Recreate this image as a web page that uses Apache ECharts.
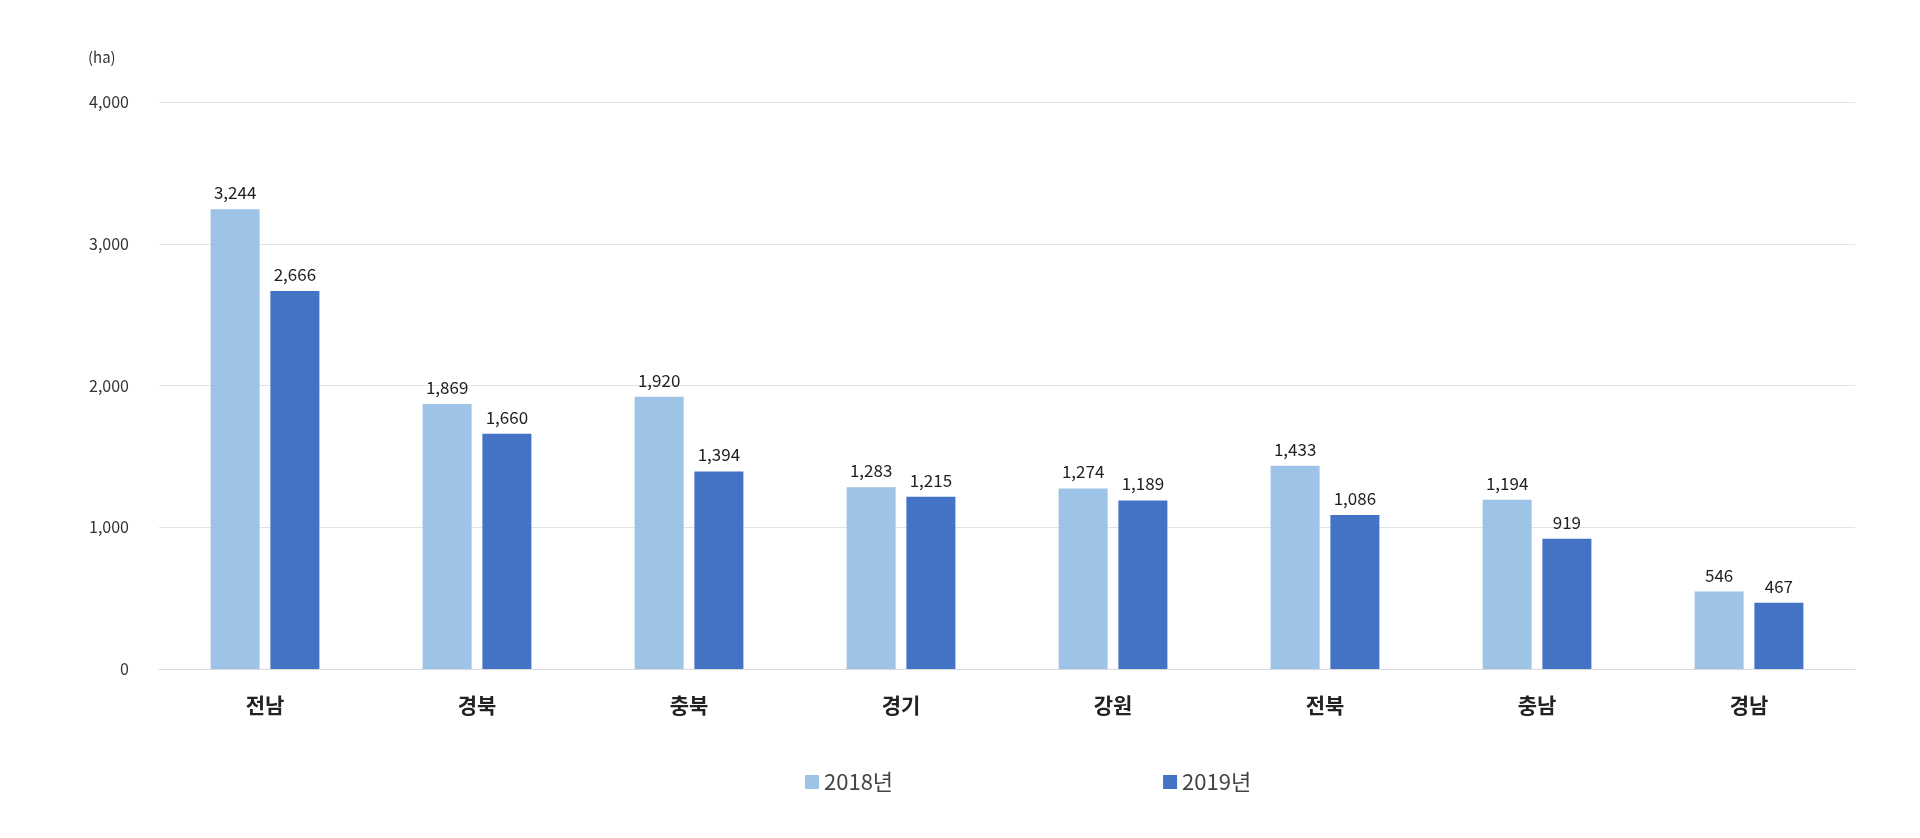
<!DOCTYPE html>
<html><head><meta charset="utf-8">
<script src="https://cdn.jsdelivr.net/npm/echarts@6/dist/echarts.min.js"></script>
<style>html,body{margin:0;padding:0;background:#fff}#c{width:1920px;height:838px}</style>
</head><body><div id="c"></div>
<script>
const categories = ['전남','경북','충북','경기','강원','전북','충남','경남'];
const s2018 = [3244,1869,1920,1283,1274,1433,1194,546];
const s2019 = [2666,1660,1394,1215,1189,1086,919,467];
const font = "'Noto Sans CJK KR', 'Noto Sans', sans-serif";
const chart = echarts.init(document.getElementById('c'));
chart.setOption({
  animation:false,
  grid:{left:159,right:65,top:102,bottom:169},
  graphic:[{type:'text',left:88,top:50,style:{text:'(ha)',font:"15px "+font,fill:'#333'}}],
  legend:{bottom:40,left:800,itemGap:270,itemWidth:14,itemHeight:14,icon:'rect',
    textStyle:{fontSize:22,color:'#444',fontFamily:font},data:['2018년','2019년']},
  xAxis:{type:'category',data:categories,axisTick:{show:false},
    axisLine:{lineStyle:{color:'#d9d9d9'}},
    axisLabel:{fontSize:21,fontWeight:'bold',color:'#222',margin:26,fontFamily:font}},
  yAxis:{type:'value',min:0,max:4000,interval:1000,
    axisLabel:{fontSize:16,color:'#333',margin:30,fontFamily:font,formatter:v=>v.toLocaleString('en-US')},
    splitLine:{lineStyle:{color:'#e3e3e3'}}},
  series:[
    {name:'2018년',type:'bar',data:s2018,barWidth:49,barGap:'22%',
     itemStyle:{color:'#9DC3E6'},
     label:{show:true,position:'top',fontSize:17,color:'#222',fontFamily:font,distance:8,formatter:p=>p.value.toLocaleString('en-US')}},
    {name:'2019년',type:'bar',data:s2019,barWidth:49,
     itemStyle:{color:'#4472C4'},
     label:{show:true,position:'top',fontSize:17,color:'#222',fontFamily:font,distance:8,formatter:p=>p.value.toLocaleString('en-US')}}
  ]
});
</script></body></html>
